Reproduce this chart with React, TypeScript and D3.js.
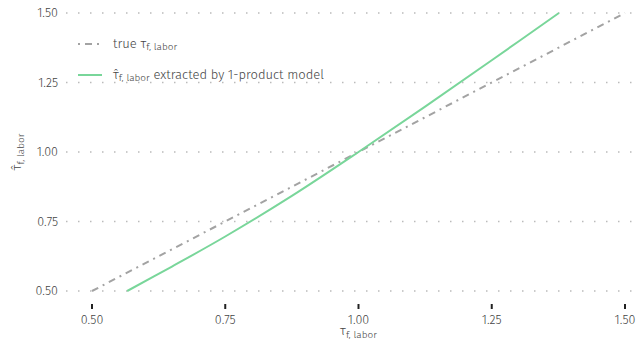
import React from "react";
import * as d3 from "d3";

const trueX = [0.5, 1.5];
const trueY = [0.5, 1.5];
const estX = [0.566, 0.65, 0.75, 0.875, 1.0, 1.125, 1.25, 1.376];
const estY = [0.5, 0.588, 0.696, 0.842, 1.0, 1.163, 1.33, 1.5];
const xTicks = [0.5, 0.75, 1.0, 1.25, 1.5];
const yTicks = [0.5, 0.75, 1.0, 1.25, 1.5];

const W = 641, H = 342;
const FONT = "'Fira Sans', 'Open Sans', 'Noto Sans', sans-serif";

export default function App() {
  const x = d3.scaleLinear().domain([0.5, 1.5]).range([92, 625]);
  const y = d3.scaleLinear().domain([0.5, 1.5]).range([291, 13]);
  const line = d3.line<[number, number]>().x(d => x(d[0])).y(d => y(d[1])).curve(d3.curveCatmullRom);
  const trueData = trueX.map((v, i) => [v, trueY[i]] as [number, number]);
  const estData = estX.map((v, i) => [v, estY[i]] as [number, number]);
  return (
    <svg width={W} height={H} style={{ position: "absolute", left: 0, top: 0, fontFamily: FONT, fontWeight: 300 }}>
      <rect width={W} height={H} fill="#fff" />
      {yTicks.map(t => (
        <g key={t}>
          <line x1={66} x2={641} y1={y(t)} y2={y(t)} stroke="#bbb" strokeWidth={1.5} strokeDasharray="1.5,10.5" />
          <text x={58} y={y(t)} dy="0.35em" textAnchor="end" fontSize={12.5} fill="#444">{t.toFixed(2)}</text>
        </g>
      ))}
      {xTicks.map(t => (
        <g key={t}>
          <line x1={x(t)} x2={x(t)} y1={304} y2={309} stroke="#222" strokeWidth={2} />
          <text x={x(t)} y={324} textAnchor="middle" fontSize={12.5} fill="#444">{t.toFixed(2)}</text>
        </g>
      ))}
      <path d={line(trueData) || ""} fill="none" stroke="#a3a3a3" strokeWidth={2} strokeDasharray="7,5,2,5" />
      <path d={line(estData) || ""} fill="none" stroke="#79d69a" strokeWidth={2} />
      <text x={x(1.0)} y={335} textAnchor="middle" fontSize={13} fill="#444">
        τ<tspan fontSize={10} dy={2.5}>f, labor</tspan>
      </text>
      <text transform={`translate(21,${y(1.0)}) rotate(-90)`} textAnchor="middle" fontSize={13} fill="#444">
        τ̂<tspan fontSize={10} dy={2.5}>f, labor</tspan>
      </text>
      <line x1={78} x2={101} y1={44} y2={44} stroke="#a3a3a3" strokeWidth={2} strokeDasharray="2,5,7,5" />
      <text x={113} y={43} dy="0.35em" fontSize={13} fill="#444">
        true τ<tspan fontSize={10} dy={2.5}>f, labor</tspan>
      </text>
      <line x1={78} x2={102} y1={75} y2={75} stroke="#79d69a" strokeWidth={2} />
      <text x={113} y={74} dy="0.35em" fontSize={13} fill="#444">
        τ̂<tspan fontSize={10} dy={2.5}>f, labor</tspan><tspan dy={-2.5}> extracted by 1-product model</tspan>
      </text>
    </svg>
  );
}
